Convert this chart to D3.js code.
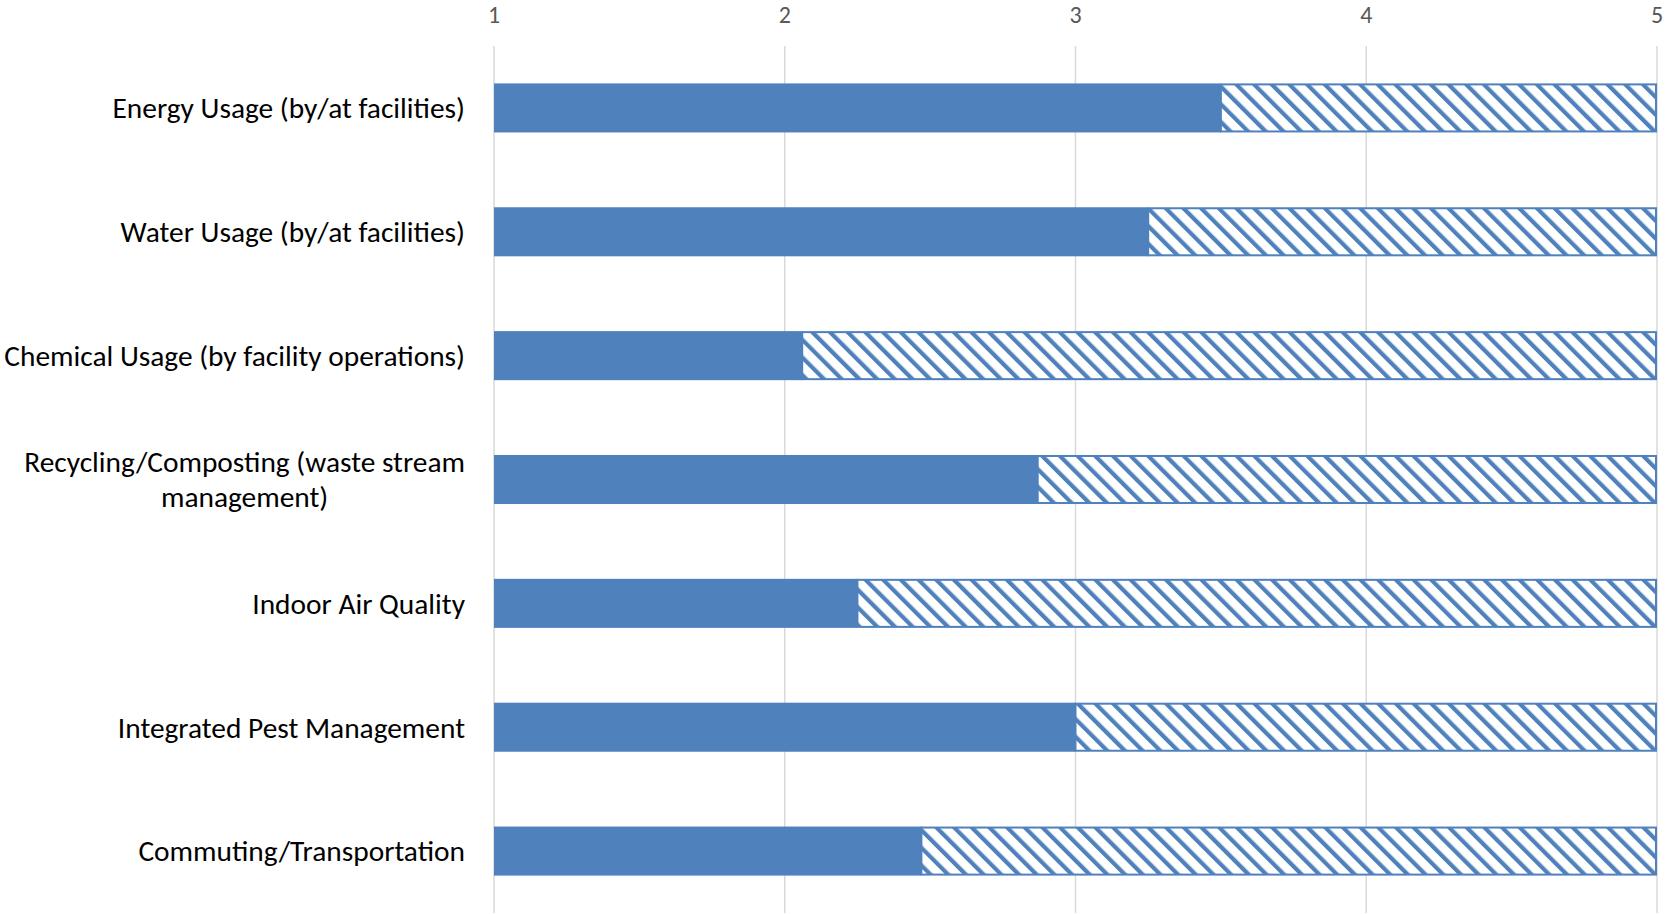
<!DOCTYPE html>
<html>
<head>
<meta charset="utf-8">
<script src="https://cdn.jsdelivr.net/npm/d3@7"></script>
<style>
  body { margin: 0; background: #fff; }
  svg { display: block; }
</style>
</head>
<body>
<div id="main"></div>
<script>
// data
const categories = [
  "Energy Usage (by/at facilities)",
  "Water Usage (by/at facilities)",
  "Chemical Usage (by facility operations)",
  "Recycling/Composting (waste stream management)",
  "Indoor Air Quality",
  "Integrated Pest Management",
  "Commuting/Transportation"
];
const labelLines = [
  ["Energy Usage (by/at facilities)"],
  ["Water Usage (by/at facilities)"],
  ["Chemical Usage (by facility operations)"],
  ["Recycling/Composting (waste stream", "management)"],
  ["Indoor Air Quality"],
  ["Integrated Pest Management"],
  ["Commuting/Transportation"]
];
const scores = [3.50, 3.25, 2.06, 2.87, 2.25, 3.00, 2.47];
const gaps   = [1.50, 1.75, 2.94, 2.13, 2.75, 2.00, 2.53];
const ticks  = [1, 2, 3, 4, 5];

var width = 1665, height = 914;
var blue = "#4F81BD";

function main () {
  const svg = d3.create("svg")
    .attr("width", width)
    .attr("height", height);

  const x = d3.scaleLinear().domain([1, 5]).range([494, 1657]);
  const y = d3.scaleBand().domain(categories).range([46, 913])
    .paddingInner(0.604).paddingOuter(0.302);

  // hatch pattern, downward diagonal
  svg.append("defs").append("pattern")
      .attr("id", "hatch")
      .attr("patternUnits", "userSpaceOnUse")
      .attr("width", 12.5).attr("height", 12.5)
      .attr("patternTransform", "rotate(-45)")
    .call(p => p.append("rect").attr("width", 12.5).attr("height", 12.5).attr("fill", "#fff"))
    .append("rect")
      .attr("width", 4.2).attr("height", 12.5)
      .attr("fill", blue);

  // grid
  svg.append("g")
      .attr("stroke", "#d9d9d9")
      .attr("stroke-width", 1.5)
    .selectAll("line")
    .data(ticks)
    .join("line")
      .attr("x1", d => x(d)).attr("x2", d => x(d))
      .attr("y1", 46).attr("y2", 913);

  // top axis labels
  svg.append("g")
      .attr("font-family", "Carlito, Lato, sans-serif")
      .attr("font-size", 24)
      .attr("fill", "#595959")
      .attr("text-anchor", "middle")
    .selectAll("text")
    .data(ticks)
    .join("text")
      .attr("x", d => x(d))
      .attr("y", 23)
      .text(d => d);

  const rows = categories.map((c, i) => ({c, score: scores[i], gap: gaps[i], lines: labelLines[i]}));

  svg.append("g")
    .selectAll("rect")
    .data(rows)
    .join("rect")
      .attr("x", x(1))
      .attr("y", d => y(d.c))
      .attr("width", d => x(d.score) - x(1))
      .attr("height", y.bandwidth())
      .attr("fill", blue);

  svg.append("g")
    .selectAll("rect")
    .data(rows)
    .join("rect")
      .attr("x", d => x(d.score))
      .attr("y", d => y(d.c) + 1)
      .attr("width", d => x(d.score + d.gap) - x(d.score) - 1)
      .attr("height", y.bandwidth() - 2)
      .attr("fill", "url(#hatch)")
      .attr("stroke", blue)
      .attr("stroke-width", 2);

  // category labels
  const lab = svg.append("g")
      .attr("font-family", "Carlito, Lato, sans-serif")
      .attr("font-size", 29.4)
      .attr("fill", "#000");

  rows.forEach(d => {
    const cy = y(d.c) + y.bandwidth() / 2;
    const lh = 35;
    const t = lab.append("text")
      .attr("text-anchor", d.lines.length > 1 ? "middle" : "end");
    d.lines.forEach((l, j) => {
      t.append("tspan")
        .attr("y", cy + (j - (d.lines.length - 1) / 2) * lh)
        .attr("dy", "0.35em")
        .text(l);
    });
    d.t = t;
  });

  return {svg, rows};
}

window.onload = function () {
  const {svg, rows} = main();
  document.getElementById("main").appendChild(svg.node());
  // wrapped labels: lines centred on each other, block right-aligned
  rows.forEach(d => {
    if (d.lines.length > 1) {
      const w = d3.max(d.t.selectAll("tspan").nodes(), n => n.getComputedTextLength());
      d.t.selectAll("tspan").attr("x", 465 - w / 2);
    } else {
      d.t.selectAll("tspan").attr("x", 465);
    }
  });
}
</script>
</body>
</html>
